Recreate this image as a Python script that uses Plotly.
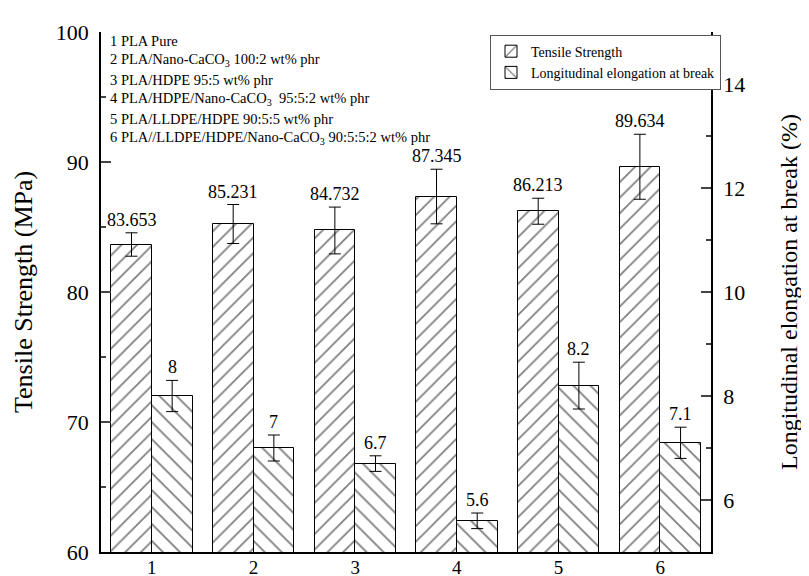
import plotly.graph_objects as go
from plotly.subplots import make_subplots

categories = [1, 2, 3, 4, 5, 6]
tensile = [83.653, 85.231, 84.732, 87.345, 86.213, 89.634]
tensile_err = [0.9, 1.5, 1.8, 2.1, 1.0, 2.5]
tensile_labels = ["83.653", "85.231", "84.732", "87.345", "86.213", "89.634"]
elong = [8.0, 7.0, 6.7, 5.6, 8.2, 7.1]
elong_err = [0.3, 0.25, 0.15, 0.15, 0.45, 0.3]
elong_labels = ["8", "7", "6.7", "5.6", "8.2", "7.1"]
notes = [
    "1 PLA Pure",
    "2 PLA/Nano-CaCO<sub>3</sub> 100:2 wt% phr",
    "3 PLA/HDPE 95:5 wt% phr",
    "4 PLA/HDPE/Nano-CaCO<sub>3</sub>  95:5:2 wt% phr",
    "5 PLA/LLDPE/HDPE 90:5:5 wt% phr",
    "6 PLA//LLDPE/HDPE/Nano-CaCO<sub>3</sub> 90:5:5:2 wt% phr",
]
note_y_px = [33, 52, 72, 91, 111, 130]

FONT = "Liberation Serif"
W, H = 809, 576
ML, MR, MT, MB = 93, 67, 24, 32
PW = W - ML - MR
PH = H - MT - MB

fig = make_subplots(specs=[[{"secondary_y": True}]])

fig.add_trace(go.Bar(
    x=categories, y=tensile, width=0.4, offset=-0.4,
    name="Tensile Strength",
    marker=dict(color="white", line=dict(color="black", width=1),
                pattern=dict(shape="/", fgcolor="black", bgcolor="white",
                             size=11, solidity=0.16, fillmode="overlay")),
    error_y=dict(type="data", array=tensile_err, color="black", thickness=1, width=6),
), secondary_y=False)

fig.add_trace(go.Bar(
    x=categories, y=elong, width=0.4, offset=0.0,
    name="Longitudinal elongation at break",
    marker=dict(color="white", line=dict(color="black", width=1),
                pattern=dict(shape="\\", fgcolor="black", bgcolor="white",
                             size=12, solidity=0.15, fillmode="overlay")),
    error_y=dict(type="data", array=elong_err, color="black", thickness=1, width=6),
), secondary_y=True)

annotations = []
for c, v, e, t in zip(categories, tensile, tensile_err, tensile_labels):
    annotations.append(dict(x=c - 0.2, y=v + e, xref="x", yref="y", text=t,
                            showarrow=False, yanchor="bottom", yshift=1,
                            font=dict(family=FONT, size=18, color="black")))
for c, v, e, t in zip(categories, elong, elong_err, elong_labels):
    annotations.append(dict(x=c + 0.2, y=v + e, xref="x", yref="y2", text=t,
                            showarrow=False, yanchor="bottom", yshift=1,
                            font=dict(family=FONT, size=18, color="black")))
for t, ypx in zip(notes, note_y_px):
    annotations.append(dict(x=(100 - ML) / PW, y=1 - (ypx - MT) / PH,
                            xref="paper", yref="paper", text=t, showarrow=False,
                            xanchor="left", yanchor="middle",
                            font=dict(family=FONT, size=14.5, color="black")))
# axis titles
annotations.append(dict(x=(15 - ML) / PW, y=0.5, xref="paper", yref="paper",
                        text="Tensile Strength (MPa)", textangle=-90, showarrow=False,
                        xanchor="center", yanchor="middle",
                        font=dict(family=FONT, size=26, color="black")))
annotations.append(dict(x=(781 - ML) / PW, y=0.5, xref="paper", yref="paper",
                        text="Longitudinal elongation at break (%)", textangle=-90,
                        showarrow=False, xanchor="center", yanchor="middle",
                        font=dict(family=FONT, size=24, color="black")))

fig.update_layout(
    width=W, height=H,
    margin=dict(l=ML, r=MR, t=MT, b=MB, autoexpand=False),
    plot_bgcolor="white", paper_bgcolor="white",
    font=dict(family=FONT, color="black"),
    bargap=0, showlegend=True,
    legend=dict(x=(482 - ML) / PW, y=0.995, xanchor="left", yanchor="top",
                bordercolor="#555555", borderwidth=1, bgcolor="white",
                font=dict(family=FONT, size=14), tracegroupgap=0,
                itemwidth=30),
    annotations=annotations,
)

fig.update_xaxes(range=[0.5, 6.5], tickmode="array", tickvals=categories,
                 ticktext=[str(c) for c in categories], ticks="",
                 showline=True, linecolor="black", linewidth=1.5,
                 showgrid=False, zeroline=False, ticklabelstandoff=-3,
                 tickfont=dict(family=FONT, size=19), automargin=False)

fig.update_yaxes(range=[60, 100], dtick=10, ticks="inside", ticklen=10, tickwidth=1.5,
                 minor=dict(dtick=5, ticks="inside", ticklen=5, tickwidth=1.5),
                 showline=True, linecolor="black", linewidth=1.5,
                 showgrid=False, zeroline=False, ticklabelstandoff=6,
                 tickfont=dict(family=FONT, size=22), automargin=False,
                 secondary_y=False)

fig.update_yaxes(range=[5, 15], dtick=2, tick0=0, ticks="inside", ticklen=10, tickwidth=1.5,
                 minor=dict(dtick=1, ticks="inside", ticklen=5, tickwidth=1.5),
                 showline=True, linecolor="black", linewidth=1.5,
                 showgrid=False, zeroline=False, ticklabelstandoff=6,
                 tickfont=dict(family=FONT, size=22), automargin=False,
                 secondary_y=True)

fig.write_html("out.html")
